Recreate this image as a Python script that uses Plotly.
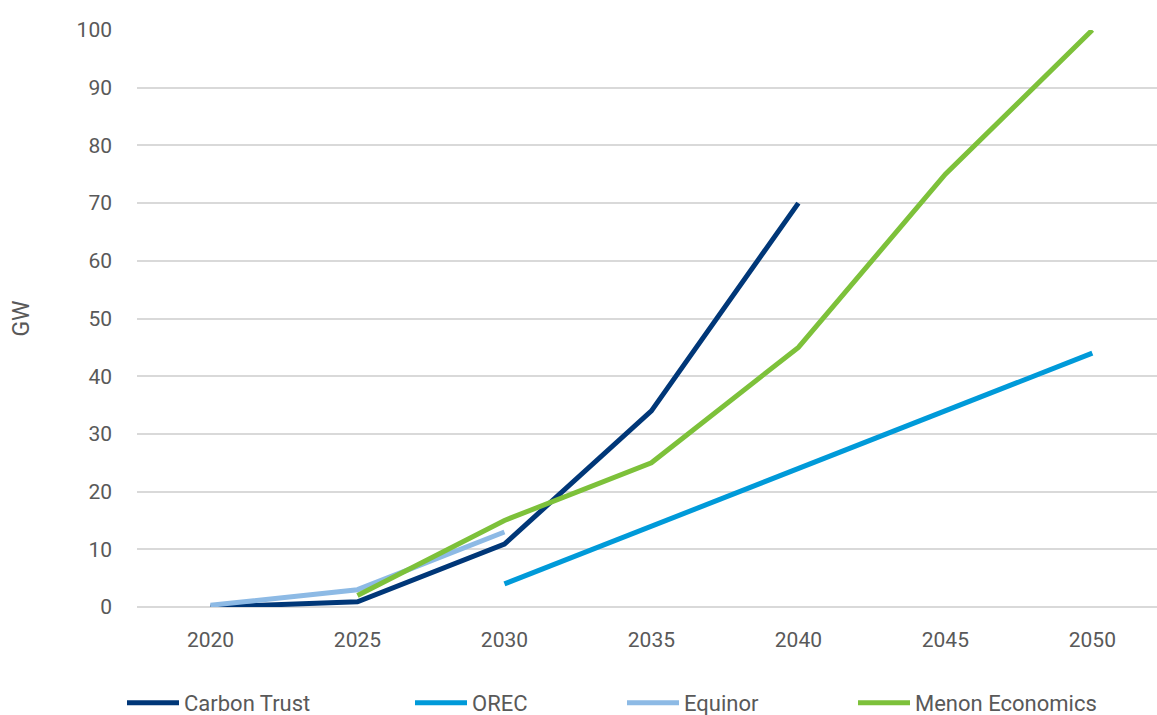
import plotly.graph_objects as go

years = ["2020", "2025", "2030", "2035", "2040", "2045", "2050"]
carbon_trust = [0, 0.9, 10.9, 34, 70, None, None]
orec = [None, None, 4, 14, 24, 34, 44]
equinor = [0.3, 3, 13, None, None, None, None]
menon = [None, 2, 15, 25, 45, 75, 100]

series = [
    ("Carbon Trust", carbon_trust, "#003778", "legend"),
    ("OREC", orec, "#009AD9", "legend2"),
    ("Equinor", equinor, "#8DBAE5", "legend3"),
    ("Menon Economics", menon, "#7DC13A", "legend4"),
]

fig = go.Figure()
for name, vals, color, lg in series:
    fig.add_trace(go.Scatter(
        x=years, y=vals, name=name, mode="lines",
        line=dict(color=color, width=5), connectgaps=False, legend=lg,
    ))

L, W = 137, 1020
def lx(px):
    return (px - L) / W

leg_common = dict(orientation="h", yref="container", yanchor="middle", y=0.017,
                  xanchor="left", font=dict(size=22, color="#595959"), itemwidth=52,
                  bgcolor="rgba(0,0,0,0)")

fig.update_layout(
    width=1157, height=715,
    margin=dict(l=L, r=0, t=30, b=108, autoexpand=False),
    paper_bgcolor="white", plot_bgcolor="white",
    font=dict(family="Roboto", color="#595959", size=21),
    showlegend=True,
    legend=dict(x=lx(122), **leg_common),
    legend2=dict(x=lx(410), **leg_common),
    legend3=dict(x=lx(622), **leg_common),
    legend4=dict(x=lx(853), **leg_common),
    xaxis=dict(
        type="category", range=[-0.5, 6.44], showgrid=False,
        showline=False, ticks="", tickfont=dict(size=21, color="#595959"),
        ticklabelstandoff=18, automargin=False,
    ),
    yaxis=dict(
        range=[0, 100], dtick=10, showgrid=True, gridcolor="#D9D9D9", gridwidth=2,
        zeroline=True, zerolinecolor="#D9D9D9", zerolinewidth=2,
        showline=False, ticks="", tickfont=dict(size=21, color="#595959"),
        ticklabelstandoff=24, automargin=False,
        title=dict(text="GW", font=dict(size=23, color="#595959"), standoff=40),
    ),
)

fig.write_html(
    "out.html",
    config={"displayModeBar": False},
    post_script="document.body.style.margin='0';document.body.style.overflow='hidden';",
)
